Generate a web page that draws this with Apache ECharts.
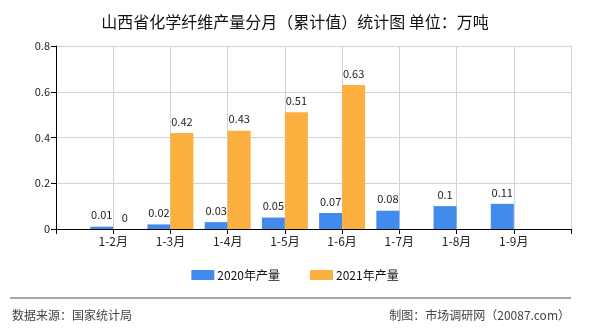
<!DOCTYPE html>
<html>
<head>
<meta charset="utf-8">
<script src="https://cdn.jsdelivr.net/npm/echarts@6/dist/echarts.min.js"></script>
<style>
  html, body { margin: 0; padding: 0; background: #fff; }
  #chart { width: 590px; height: 330px; }
</style>
</head>
<body>
<div id="chart"></div>
<script>
// padded with empty slots so bars sit on the grid lines
const categories = ["", "1-2月", "1-3月", "1-4月", "1-5月", "1-6月", "1-7月", "1-8月", "1-9月", ""];
const output2020 = [null, 0.01, 0.02, 0.03, 0.05, 0.07, 0.08, 0.1, 0.11, null];
const output2021 = [null, 0, 0.42, 0.43, 0.51, 0.63, null, null, null, null];
const yTicks = { min: 0, max: 0.8, interval: 0.2 };

const font = '"Noto Sans CJK SC", sans-serif';
const chart = echarts.init(document.getElementById("chart"));

const label = {
  show: true,
  position: "top",
  color: "#222",
  fontSize: 11,
  fontFamily: font,
  distance: 6,
};

chart.setOption({
  animation: false,
  textStyle: { fontFamily: font },
  title: {
    text: "山西省化学纤维产量分月（累计值）统计图 单位：万吨",
    left: "center",
    top: 9,
    textStyle: { fontSize: 16, fontWeight: "normal", color: "#111", fontFamily: font },
  },
  grid: { left: 56, right: 19, top: 46, bottom: 101 },
  legend: {
    bottom: 44,
    left: "center",
    icon: "rect",
    itemWidth: 23,
    itemHeight: 10,
    itemGap: 30,
    itemStyle: { borderWidth: 0 },
    textStyle: { fontSize: 12, color: "#111", fontFamily: font, padding: [0, 0, 0, -2] },
    data: ["2020年产量", "2021年产量"],
  },
  xAxis: {
    type: "category",
    data: categories,
    boundaryGap: false,
    axisLine: { lineStyle: { color: "#000" } },
    axisTick: { show: true, interval: 0, length: 5, lineStyle: { color: "#000" } },
    axisLabel: { interval: 0, color: "#222", fontSize: 12, margin: 6, fontFamily: font },
    splitLine: { show: true, interval: 0, lineStyle: { color: "#d3d3d3" } },
  },
  yAxis: {
    type: "value",
    min: yTicks.min,
    max: yTicks.max,
    interval: yTicks.interval,
    axisLine: { show: true, lineStyle: { color: "#000" } },
    axisTick: { show: true, length: 5, lineStyle: { color: "#000" } },
    axisLabel: { color: "#222", fontSize: 11, margin: 6, fontFamily: font },
    splitLine: { lineStyle: { color: "#d3d3d3" } },
  },
  series: [
    {
      name: "2020年产量",
      type: "bar",
      data: output2020,
      barWidth: 23,
      barGap: "0%",
      itemStyle: { color: "#418bec" },
      label: label,
    },
    {
      name: "2021年产量",
      type: "bar",
      data: output2021,
      barWidth: 23,
      itemStyle: { color: "#fbb03f" },
      label: label,
    },
  ],
  graphic: [
    {
      type: "line",
      shape: { x1: 10, y1: 298, x2: 571, y2: 298 },
      style: { stroke: "#888", lineWidth: 1.5 },
    },
    {
      type: "text",
      left: 12,
      top: 309,
      style: { text: "数据来源：国家统计局", fontSize: 12, fill: "#444", fontFamily: font },
    },
    {
      type: "text",
      right: 20,
      top: 309,
      style: { text: "制图：市场调研网（20087.com）", fontSize: 12, fill: "#444", fontFamily: font },
    },
  ],
});
</script>
</body>
</html>
